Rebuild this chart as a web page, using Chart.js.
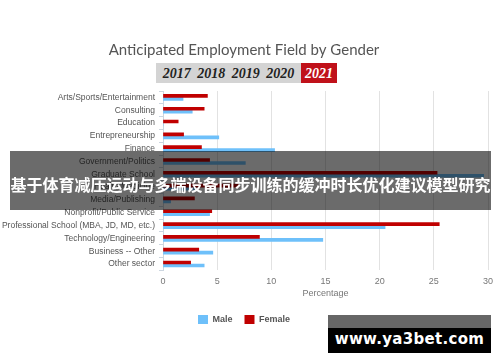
<!DOCTYPE html>
<html>
<head>
<meta charset="utf-8">
<script src="https://cdn.jsdelivr.net/npm/chart.js@4/dist/chart.umd.min.js"></script>
<style>
  body { margin: 0; background: #fff; }
  #wrap { position: relative; width: 500px; height: 362px; overflow: hidden; }
  #years { position: absolute; left: 156px; top: 63px; height: 20px; display: flex;
           font: italic bold 14px "Liberation Serif", serif; line-height: 21px; }
  #years .old { background: #d4d4d4; color: #222; width: 145px; text-align: center; word-spacing: 3px; }
  #years .cur { background: #c0111a; color: #fff; width: 36px; text-align: center; }
  #banner { position: absolute; left: 10px; top: 151px; width: 481px; height: 59px;
            background: rgba(0,0,0,0.58); color: #fff; text-align: center;
            font: bold 16px "Noto Sans CJK SC", sans-serif; line-height: 20px; box-sizing: border-box; padding-top: 23px; }
  #mark { position: absolute; left: 328px; top: 315px; width: 163px; height: 38px; }
  #mark .top { height: 13px; background: #666; }
  #mark .bot { height: 25px; background: #000; color: #fff; text-align: center;
               font: bold 15px "DejaVu Sans", sans-serif; line-height: 22px; letter-spacing: 0.3px; }
</style>
</head>
<body>
<div id="wrap">
  <canvas id="mycanvas" width="500" height="362"></canvas>
  <div id="years"><span class="old">2017 2018 2019 2020</span><span class="cur">2021</span></div>
  <div id="banner">基于体育减压运动与多端设备同步训练的缓冲时长优化建议模型研究</div>
  <div id="mark"><div class="top"></div><div class="bot">www.ya3bet.com</div></div>
</div>
<script>
// categories top to bottom
var fields = [
  'Arts/Sports/Entertainment', 'Consulting', 'Education', 'Entrepreneurship',
  'Finance', 'Government/Politics', 'Graduate School', 'Health/Medicine',
  'Media/Publishing', 'Nonprofit/Public Service', 'Professional School (MBA, JD, MD, etc.)',
  'Technology/Engineering', 'Business -- Other', 'Other sector'
];
// percentages
var female = [4.1, 3.8, 1.4, 1.9, 3.55, 4.3, 25.3, 7.0, 2.9, 4.5, 25.5, 8.9, 3.3, 2.55];
var male   = [1.85, 2.7, 0, 5.15, 10.3, 7.6, 29.6, 3.0, 0.7, 4.3, 20.5, 14.75, 4.6, 3.8];
var xTicks = [0, 5, 10, 15, 20, 25, 30];

var grey = '#777';

var chartdata = {
  labels: fields,
  datasets: [
    { label: 'Female', data: female, backgroundColor: '#c00000', borderWidth: 0 },
    { label: 'Male', data: male, backgroundColor: '#6ec0fa', borderWidth: 0 }
  ]
};

var ctx = document.getElementById('mycanvas');
var mycanvas = new Chart(ctx, {
  type: 'bar',
  data: chartdata,
  options: {
    indexAxis: 'y',
    responsive: false,
    animation: false,
    barThickness: 3,
    layout: { padding: { left: 0, right: 12, bottom: 28 } },
    plugins: {
      title: {
        display: true,
        text: 'Anticipated Employment Field by Gender',
        color: '#555',
        font: { family: 'Lato', size: 15, weight: 'normal' },
        padding: { top: 41, bottom: 32 }
      },
      legend: {
        position: 'bottom',
        reverse: true,
        labels: {
          boxWidth: 10, boxHeight: 9, padding: 12,
          color: '#555',
          font: { family: 'Liberation Sans', size: 9, weight: 'bold' }
        }
      },
      tooltip: { enabled: false }
    },
    scales: {
      x: {
        min: 0, max: 30,
        afterBuildTicks: function(s) { s.ticks = xTicks.map(function(v) { return { value: v }; }); },
        grid: { color: '#e2e2e2', drawTicks: false },
        border: { display: false },
        ticks: { color: grey, padding: 6, font: { family: 'Liberation Sans', size: 9 } },
        title: { display: true, text: 'Percentage', color: grey, padding: { top: -5, bottom: 4 },
                 font: { family: 'Liberation Sans', size: 9 } }
      },
      y: {
        afterFit: function(s) { s.width = 163; },
        grid: { drawOnChartArea: false, tickLength: 4, color: '#ccd6e0' },
        border: { color: '#ccd6e0' },
        ticks: { color: '#555', padding: 4, autoSkip: false, font: { family: 'Liberation Sans', size: 8.5 } }
      }
    }
  }
});
</script>
</body>
</html>
